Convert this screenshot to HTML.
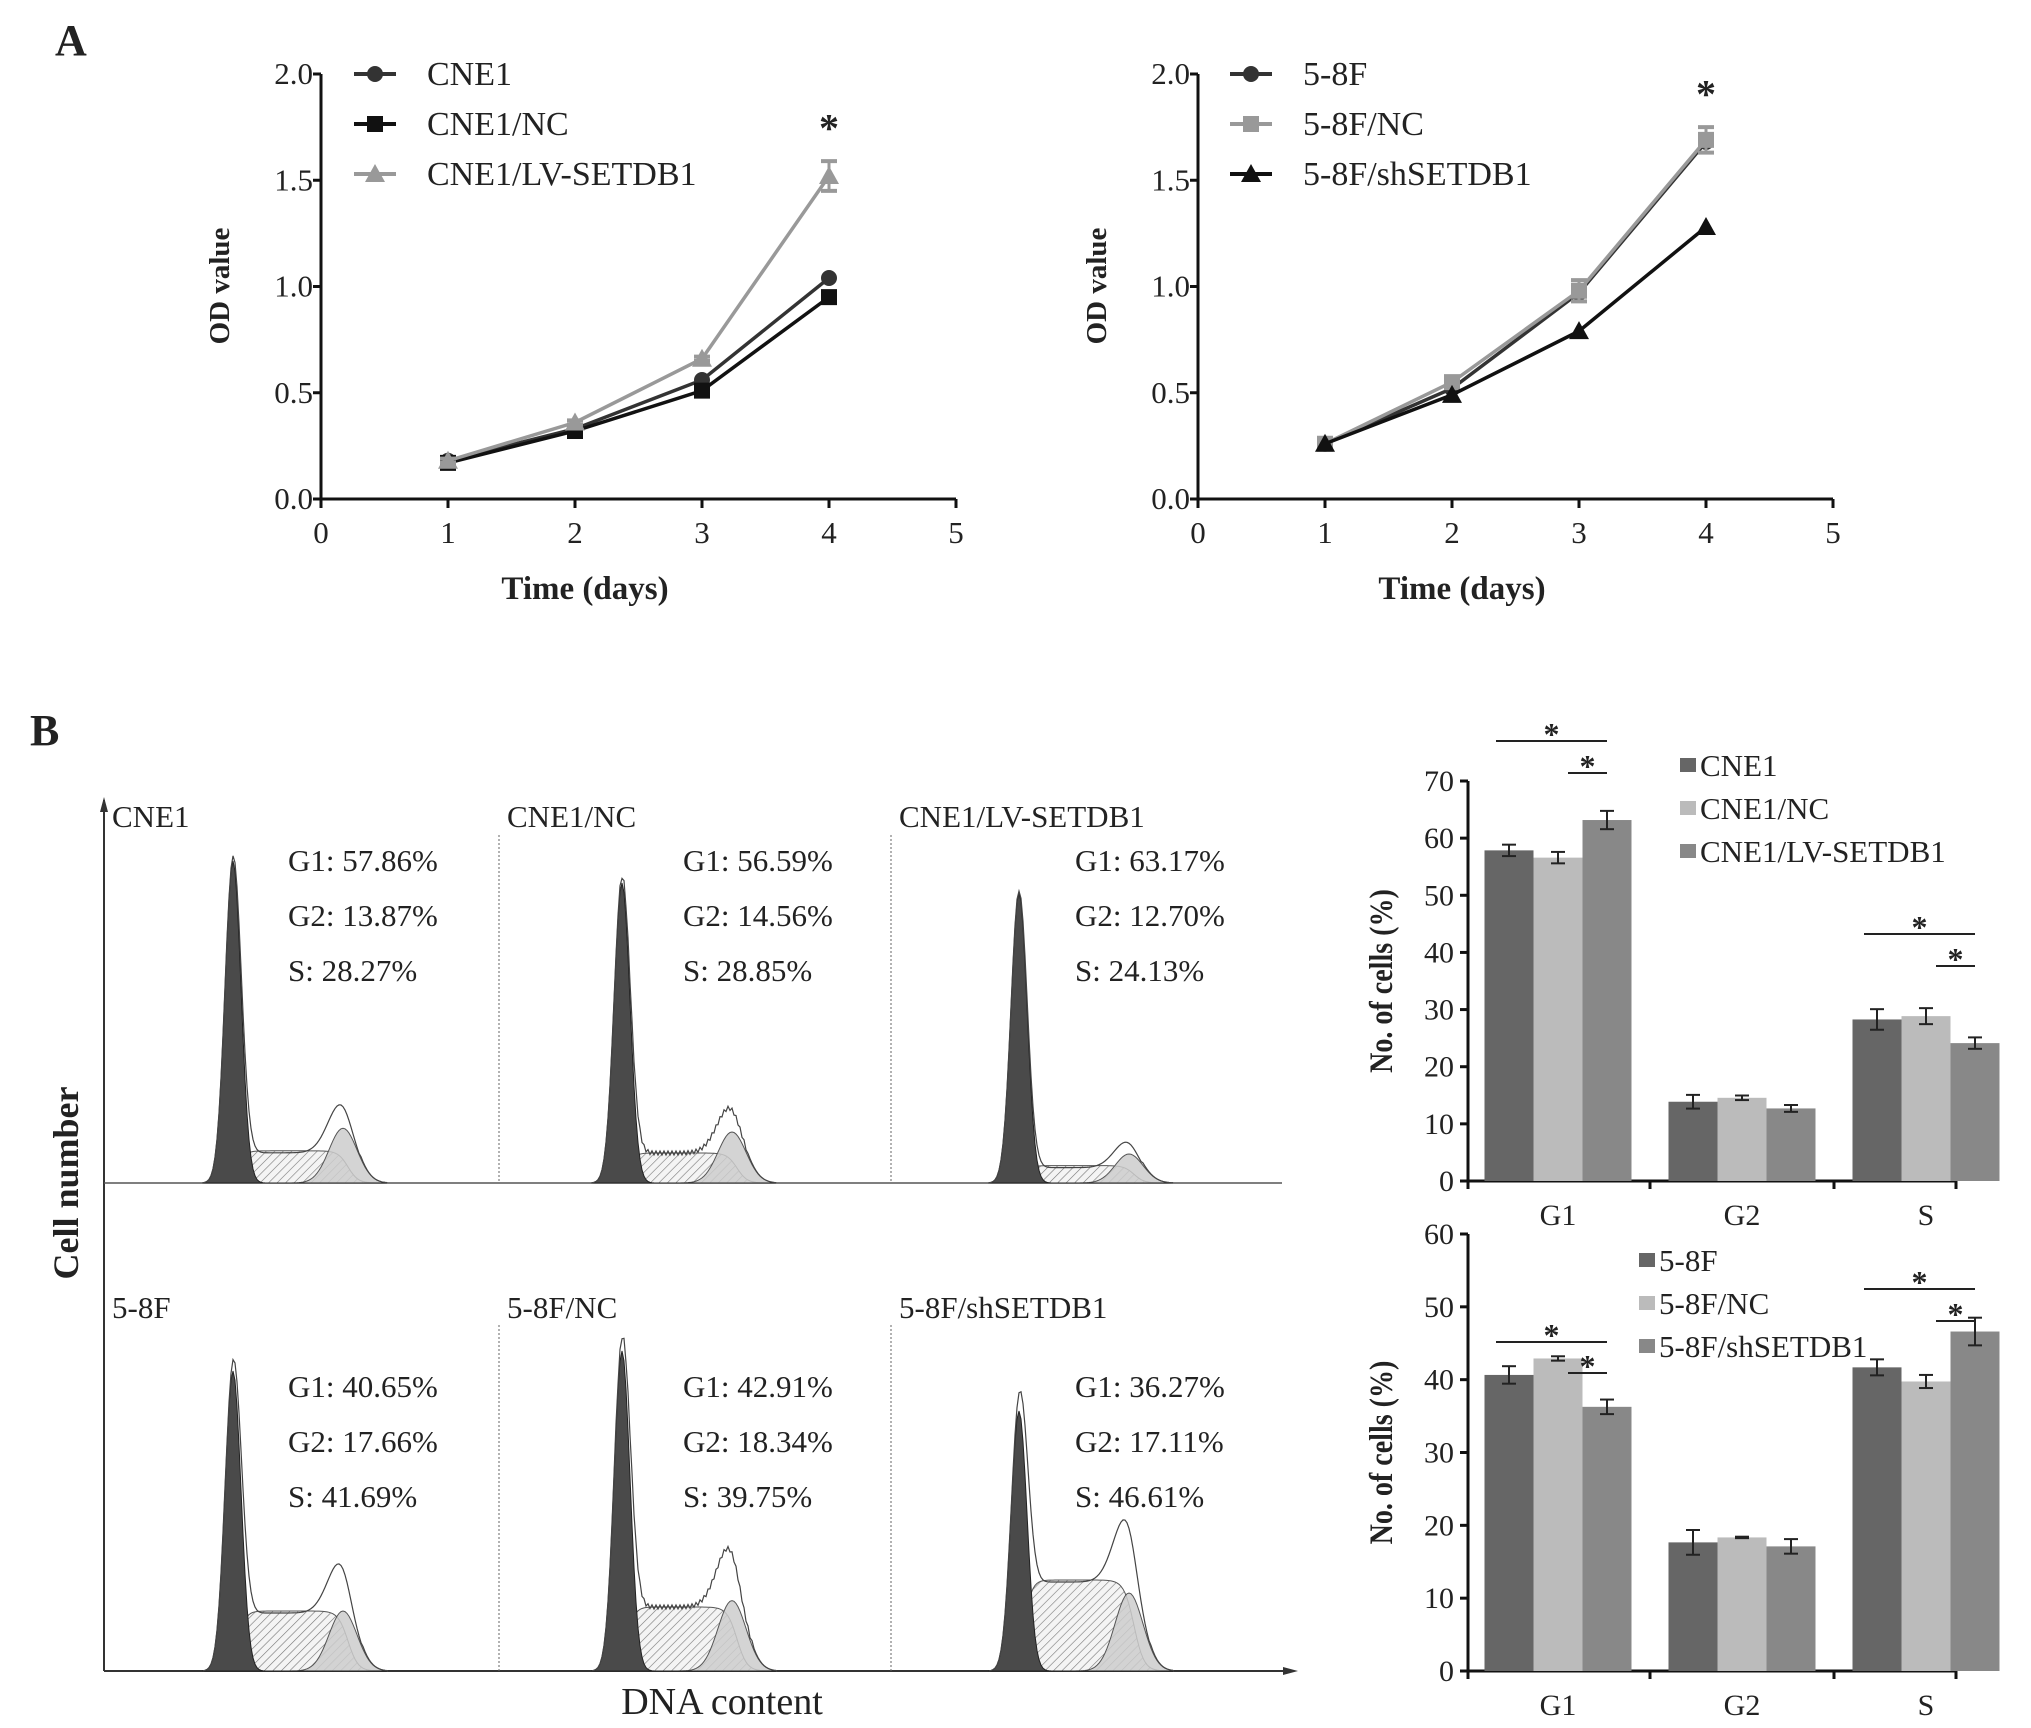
<!DOCTYPE html>
<html><head><meta charset="utf-8">
<style>
html,body{margin:0;padding:0;background:#fff;}
svg{display:block;}
text{font-family:"Liberation Serif",serif;fill:#222;}
</style></head>
<body>
<svg id="fig" width="2031" height="1728" viewBox="0 0 2031 1728" xmlns="http://www.w3.org/2000/svg">
<defs>
<pattern id="hatch" patternUnits="userSpaceOnUse" width="6" height="6" patternTransform="rotate(45)">
<rect width="6" height="6" fill="#f4f4f4"/><line x1="0" y1="0" x2="0" y2="6" stroke="#777" stroke-width="1.2"/>
</pattern>
</defs>
<text x="55" y="55" font-size="44" font-weight="bold">A</text>
<text x="30" y="745" font-size="44" font-weight="bold">B</text>
<g id="root"></g>
</svg>
<script>
// ---------- Data: growth curves ----------
const days = [1, 2, 3, 4];
const cne1 = [0.18, 0.33, 0.56, 1.04];
const cne1NC = [0.17, 0.32, 0.51, 0.95];
const cne1LV = [0.18, 0.36, 0.66, 1.52];
const cne1LVErr = [0.01, 0.01, 0.01, 0.07];
const f58 = [0.26, 0.52, 0.97, 1.68];
const f58NC = [0.26, 0.55, 0.98, 1.69];
const f58NCErr = [0.01, 0.01, 0.05, 0.06];
const f58sh = [0.26, 0.49, 0.79, 1.28];
const odTicks = [0, 0.5, 1.0, 1.5, 2.0];
const dayTicks = [0, 1, 2, 3, 4, 5];
// ---------- Data: bar charts ----------
const phases = ["G1", "G2", "S"];
const barCNE1 = [57.86, 13.87, 28.27];
const barCNE1Err = [1.0, 1.2, 1.8];
const barCNE1NC = [56.59, 14.56, 28.85];
const barCNE1NCErr = [1.0, 0.4, 1.4];
const barCNE1LV = [63.17, 12.70, 24.13];
const barCNE1LVErr = [1.6, 0.6, 1.0];
const bar58F = [40.65, 17.66, 41.69];
const bar58FErr = [1.2, 1.7, 1.1];
const bar58FNC = [42.91, 18.34, 39.75];
const bar58FNCErr = [0.3, 0.1, 0.9];
const bar58Fsh = [36.27, 17.11, 46.61];
const bar58FshErr = [1.0, 1.0, 1.9];
const topTicks = [0, 10, 20, 30, 40, 50, 60, 70];
const botTicks = [0, 10, 20, 30, 40, 50, 60];
// ---------- Data: flow panels ----------
const flowNames = ["CNE1", "CNE1/NC", "CNE1/LV-SETDB1", "5-8F", "5-8F/NC", "5-8F/shSETDB1"];
const flowG1 = ["57.86", "56.59", "63.17", "40.65", "42.91", "36.27"];
const flowG2 = ["13.87", "14.56", "12.70", "17.66", "18.34", "17.11"];
const flowS = ["28.27", "28.85", "24.13", "41.69", "39.75", "46.61"];

const NS = "http://www.w3.org/2000/svg";
const root = document.getElementById("root");
function mk(tag, attrs, parent, txt) {
  const e = document.createElementNS(NS, tag);
  for (const k in attrs) e.setAttribute(k, attrs[k]);
  if (txt !== undefined) e.textContent = txt;
  (parent || root).appendChild(e);
  return e;
}

// ---------- Line charts ----------
function lineChart(ox, name, series, legendX, legendLabels) {
  const g = mk("g", {});
  
  
  const x0 = ox, x5 = ox + 635, yB = 499, yT = 74;
  const X = d => x0 + (x5 - x0) * d / 5;
  const Y = v => yB - (yB - yT) * v / 2;
  mk("line", {x1: x0, y1: yT, x2: x0, y2: yB, stroke: "#111", "stroke-width": 3}, g);
  mk("line", {x1: x0, y1: yB, x2: x5, y2: yB, stroke: "#111", "stroke-width": 3}, g);
  odTicks.forEach(v => {
    mk("line", {x1: x0 - 8, y1: Y(v), x2: x0, y2: Y(v), stroke: "#111", "stroke-width": 3}, g);
    const t = mk("text", {x: x0 - 8, y: Y(v) + 10, "font-size": 31, "text-anchor": "end"}, g, v.toFixed(1));
    
    
  });
  dayTicks.forEach(d => {
    mk("line", {x1: X(d), y1: yB, x2: X(d), y2: yB + 9, stroke: "#111", "stroke-width": 3}, g);
    const t = mk("text", {x: X(d), y: yB + 44, "font-size": 31, "text-anchor": "middle"}, g, String(d));
    
    
  });
  const yt = mk("text", {x: 0, y: 0, "font-size": 29, "font-weight": "bold", "text-anchor": "middle", transform: `translate(${ox - 92},286) rotate(-90)`}, g, "OD value");
  
  
  const xt = mk("text", {x: ox + 264, y: 599, "font-size": 33, "font-weight": "bold", "text-anchor": "middle"}, g, "Time (days)");
  
  
  series.forEach(s => {
    const pts = s.vals.map((v, i) => X(days[i]) + "," + Y(v)).join(" ");
    const pl = mk("polyline", {points: pts, fill: "none", stroke: s.color, "stroke-width": 3.5}, g);
    
    
    s.vals.forEach((v, i) => {
      if (s.err) {
        const e = s.err[i];
        mk("line", {x1: X(days[i]), y1: Y(v + e), x2: X(days[i]), y2: Y(v - e), stroke: s.color, "stroke-width": 3}, g);
        mk("line", {x1: X(days[i]) - 8, y1: Y(v + e), x2: X(days[i]) + 8, y2: Y(v + e), stroke: s.color, "stroke-width": 4}, g);
        mk("line", {x1: X(days[i]) - 8, y1: Y(v - e), x2: X(days[i]) + 8, y2: Y(v - e), stroke: s.color, "stroke-width": 4}, g);
      }
      const m = marker(s.marker, X(days[i]), Y(v), s.color, g);
      
      
    });
  });
  const star = mk("text", {x: X(4), y: Y(s_star(series)) + 6, "font-size": 40, "font-weight": "bold", "text-anchor": "middle"}, g, "*");
  
  
  series.forEach((s, i) => {
    const ly = 74 + i * 50;
    mk("line", {x1: legendX - 21, y1: ly, x2: legendX + 21, y2: ly, stroke: s.color, "stroke-width": 4}, g);
    marker(s.marker, legendX, ly, s.color, g);
    const t = mk("text", {x: legendX + 52, y: ly + 11, "font-size": 34}, g, legendLabels[i]);
    
    
  });
}
function s_star(series) {
  let m = 0;
  series.forEach(s => { const v = s.vals[3] + (s.err ? s.err[3] : 0); if (v > m) m = v; });
  return m + 0.12;
}
function marker(type, x, y, c, g) {
  if (type === "circle") return mk("circle", {cx: x, cy: y, r: 8, fill: c}, g);
  if (type === "square") return mk("rect", {x: x - 8, y: y - 8, width: 16, height: 16, fill: c}, g);
  return mk("polygon", {points: `${x},${y - 10} ${x + 10},${y + 8} ${x - 10},${y + 8}`, fill: c}, g);
}
lineChart(321, "cne1-growth-chart", [
  {name: "cne1", vals: cne1, color: "#333", marker: "circle"},
  {name: "cne1-nc", vals: cne1NC, color: "#111", marker: "square"},
  {name: "cne1-lv", vals: cne1LV, err: cne1LVErr, color: "#999", marker: "tri"}
], 375, ["CNE1", "CNE1/NC", "CNE1/LV-SETDB1"]);
lineChart(1198, "f58-growth-chart", [
  {name: "f58", vals: f58, color: "#333", marker: "circle"},
  {name: "f58-nc", vals: f58NC, err: f58NCErr, color: "#999", marker: "square"},
  {name: "f58-sh", vals: f58sh, color: "#111", marker: "tri"}
], 1251, ["5-8F", "5-8F/NC", "5-8F/shSETDB1"]);

// ---------- Flow cytometry panels ----------
(function () {
  const g = mk("g", {});
  
  
  mk("line", {x1: 104, y1: 800, x2: 104, y2: 1671, stroke: "#333", "stroke-width": 2}, g);
  mk("polygon", {points: "104,797 100,812 108,812", fill: "#333"}, g);
  mk("line", {x1: 104, y1: 1671, x2: 1290, y2: 1671, stroke: "#333", "stroke-width": 2}, g);
  mk("polygon", {points: "1298,1671 1283,1667 1283,1675", fill: "#333"}, g);
  mk("line", {x1: 104, y1: 1183, x2: 1282, y2: 1183, stroke: "#555", "stroke-width": 1.5}, g);
  [499, 891].forEach(x => {
    mk("line", {x1: x, y1: 835, x2: x, y2: 1183, stroke: "#666", "stroke-width": 1, "stroke-dasharray": "2,2"}, g);
    mk("line", {x1: x, y1: 1325, x2: x, y2: 1671, stroke: "#666", "stroke-width": 1, "stroke-dasharray": "2,2"}, g);
  });
  const cl = mk("text", {x: 0, y: 0, "font-size": 36, "font-weight": "bold", "text-anchor": "middle", transform: "translate(78,1183) rotate(-90)"}, g, "Cell number");
  
  
  const dl = mk("text", {x: 722, y: 1714, "font-size": 38, "text-anchor": "middle"}, g, "DNA content");
  
  
  const panelX = [104, 499, 891];
  const peakOff = [129, 123, 128];
  const g1H = [322, 300, 290, 300, 320, 260];
  const sH = [0.10, 0.10, 0.06, 0.20, 0.20, 0.35];
  const g2H = [0.17, 0.17, 0.10, 0.20, 0.22, 0.30];
  flowNames.forEach((n, i) => {
    const col = i % 3, row = Math.floor(i / 3);
    const px = panelX[col];
    const base = row ? 1671 : 1183;
    const tx = px + 8, ty = row ? 1318 : 827;
    const t = mk("text", {x: tx, y: ty, "font-size": 31}, g, n);
    
    
    const sx = px + 184;
    const ly = row ? 1397 : 871;
    [["G1: ", flowG1[i]], ["G2: ", flowG2[i]], ["S: ", flowS[i]]].forEach((p, k) => {
      const tt = mk("text", {x: sx, y: ly + k * 55, "font-size": 31}, g, p[0] + p[1] + "%");
      
      
    });
    const pk = px + peakOff[col];
    const H = g1H[i];
    const g2x = pk + 110;
    const gauss = (x, c, s) => Math.exp(-((x - c) * (x - c)) / (2 * s * s));
    let g1p = [], g2p = [], sp = [], env = [];
    for (let x = pk - 30; x <= pk + 155; x += 2) {
      const a = H * gauss(x, pk, 8);
      const b = H * g2H[i] * gauss(x, g2x, 14);
      const sEdge = 1 / (1 + Math.exp(-(x - pk - 5) / 4)) * 1 / (1 + Math.exp((x - g2x - 5) / 5));
      const s = H * sH[i] * sEdge;
      g1p.push(x + "," + (base - a));
      g2p.push(x + "," + (base - b));
      sp.push(x + "," + (base - s));
      env.push(x + "," + (base - a - b - s + (x % 4 ? 2 : -2) * (s > 3 ? 1 : 0)));
    }
    const first = pk - 30, last = pk + 154;
    const close = ` ${last},${base} ${first},${base}`;
    mk("polygon", {points: sp.join(" ") + close, fill: "url(#hatch)", stroke: "#555", "stroke-width": 1}, g);
    mk("polygon", {points: g2p.join(" ") + close, fill: "#ccc", "fill-opacity": 0.85, stroke: "#555", "stroke-width": 1}, g);
    const pg = mk("polygon", {points: g1p.join(" ") + close, fill: "#4a4a4a", stroke: "#222", "stroke-width": 1}, g);
    
    
    mk("polyline", {points: env.join(" "), fill: "none", stroke: "#444", "stroke-width": 1.2}, g);
  });
})();

// ---------- Bar charts ----------
function barChart(name, yB, yT, ticks, series, errs, colors, legendX, legendY, labels, sig) {
  const g = mk("g", {});
  
  
  const x0 = 1468, x1 = 1956;
  const max = ticks[ticks.length - 1];
  const Y = v => yB - (yB - yT) * v / max;
  const centers = [1558, 1742, 1926];
  const bw = 49;
  const BX = (c, s) => centers[c] + (s - 1.5) * bw;
  mk("line", {x1: x0, y1: yT, x2: x0, y2: yB, stroke: "#111", "stroke-width": 3}, g);
  mk("line", {x1: x0, y1: yB, x2: x1, y2: yB, stroke: "#111", "stroke-width": 3}, g);
  ticks.forEach(v => {
    mk("line", {x1: x0 - 8, y1: Y(v), x2: x0, y2: Y(v), stroke: "#111", "stroke-width": 3}, g);
    const t = mk("text", {x: x0 - 14, y: Y(v) + 10, "font-size": 30, "text-anchor": "end"}, g, String(v));
    
    
  });
  [x0, (centers[0] + centers[1]) / 2, (centers[1] + centers[2]) / 2, x1].forEach(x => {
    mk("line", {x1: x, y1: yB, x2: x, y2: yB + 8, stroke: "#111", "stroke-width": 3}, g);
  });
  phases.forEach((p, c) => {
    const t = mk("text", {x: centers[c], y: yB + 44, "font-size": 30, "text-anchor": "middle"}, g, p);
    
    
  });
  const yt = mk("text", {x: 0, y: 0, "font-size": 33, "font-weight": "bold", "font-family": "Liberation Sans Narrow, Liberation Sans, sans-serif", "text-anchor": "middle", transform: `translate(1392,${(yB + yT) / 2}) rotate(-90) scale(0.85,1)`}, g, "No. of cells (%)");
  
  
  series.forEach((vals, s) => {
    vals.forEach((v, c) => {
      const r = mk("rect", {x: BX(c, s), y: Y(v), width: bw, height: yB - Y(v), fill: colors[s]}, g);
      
      
      const e = errs[s][c], cx = BX(c, s) + bw / 2;
      mk("line", {x1: cx, y1: Y(v + e), x2: cx, y2: Y(v - e), stroke: "#222", "stroke-width": 2}, g);
      mk("line", {x1: cx - 7, y1: Y(v + e), x2: cx + 7, y2: Y(v + e), stroke: "#222", "stroke-width": 2}, g);
      mk("line", {x1: cx - 7, y1: Y(v - e), x2: cx + 7, y2: Y(v - e), stroke: "#222", "stroke-width": 2}, g);
    });
  });
  labels.forEach((l, i) => {
    const ly = legendY + i * 43;
    mk("rect", {x: legendX, y: ly - 9, width: 16, height: 14, fill: colors[i]}, g);
    const t = mk("text", {x: legendX + 20, y: ly + 9, "font-size": 31}, g, l);
    
    
  });
  sig.forEach(sg => {
    const c = sg.cat;
    const xs = BX(c, 0) + bw / 2 - 13, xm = BX(c, 1) + bw / 2 + 10, xe = BX(c, 2) + bw / 2;
    mk("line", {x1: xs, y1: sg.y1, x2: xe, y2: sg.y1, stroke: "#222", "stroke-width": 2}, g);
    mk("line", {x1: xm, y1: sg.y2, x2: xe, y2: sg.y2, stroke: "#222", "stroke-width": 2}, g);
    const s1 = mk("text", {x: (xs + xe) / 2, y: sg.y1 + 4, "font-size": 32, "font-weight": "bold", "text-anchor": "middle"}, g, "*");
    
    
    const s2 = mk("text", {x: (xm + xe) / 2, y: sg.y2 + 4, "font-size": 32, "font-weight": "bold", "text-anchor": "middle"}, g, "*");
    
    
  });
}
const barColors = ["#666", "#bbb", "#888"];
barChart("cne1-cell-cycle-bar-chart", 1181, 781, topTicks,
  [barCNE1, barCNE1NC, barCNE1LV], [barCNE1Err, barCNE1NCErr, barCNE1LVErr], barColors,
  1680, 767, ["CNE1", "CNE1/NC", "CNE1/LV-SETDB1"],
  [{cat: 0, y1: 741, y2: 773}, {cat: 2, y1: 934, y2: 966}]);
barChart("f58-cell-cycle-bar-chart", 1671, 1234, botTicks,
  [bar58F, bar58FNC, bar58Fsh], [bar58FErr, bar58FNCErr, bar58FshErr], barColors,
  1639, 1262, ["5-8F", "5-8F/NC", "5-8F/shSETDB1"],
  [{cat: 0, y1: 1342, y2: 1373}, {cat: 2, y1: 1289, y2: 1321}]);
</script>
</body></html>
